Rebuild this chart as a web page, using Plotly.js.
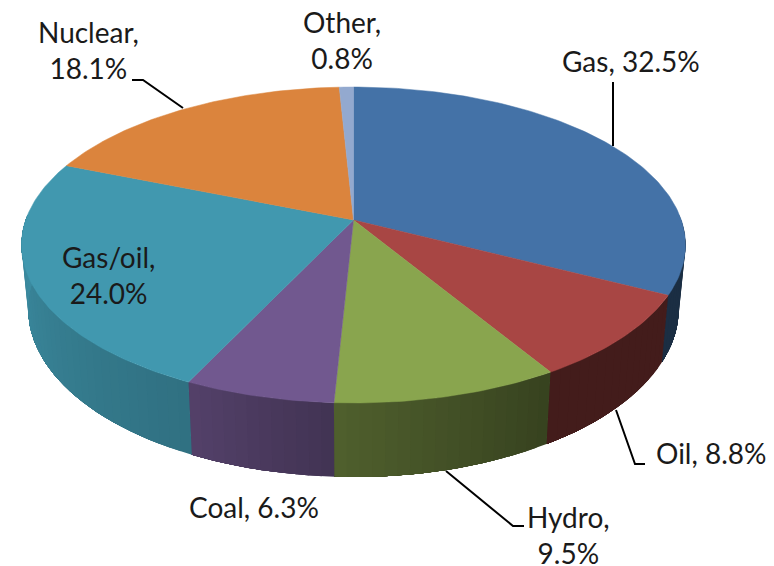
<!DOCTYPE html>
<html>
<head>
<meta charset="utf-8">
<script src="https://cdn.plot.ly/plotly-3.0.1.min.js"></script>
<style>html,body{margin:0;padding:0;background:#fff}#chart{width:774px;height:566px}</style>
</head>
<body>
<div id="chart"></div>
<script>
// Data, clockwise from the top of the pie
const categories = ["Gas", "Oil", "Hydro", "Coal", "Gas/oil", "Nuclear", "Other"];
const shares = [32.5, 8.8, 9.5, 6.3, 24.0, 18.1, 0.8];
const topColors = ["#4472A7", "#A84644", "#89A54E", "#71588F", "#4198AF", "#DB843D", "#93A9CF"];

// Label text and placement
const labelText = ["Gas, 32.5%", "Oil, 8.8%", "Hydro,<br>9.5%", "Coal, 6.3%", "Gas/oil,<br>24.0%", "Nuclear,<br>18.1%", "Other,<br>0.8%"];
const labelX = [631, 711, 568, 254, 108, 88, 342];
const labelY = [61, 453, 535, 507, 275, 50, 40];

// Leader lines
const leaderX = [[613, 613], [616, 635, 645], [446, 513, 524], [183, 143, 132]];
const leaderY = [[146, 82], [410, 464, 464], [471, 526, 526], [108, 80, 80]];

// Perspective disc geometry
const cx = 353.5, cy = 220, A = 327.8, a = -119.2, k = 0.1582;
const wallScale = 0.98, wallQ = 1.065, wallP = 47.8;
// Wall shading by clockwise angle
const shadeAngle = [0, 117, 149, 183, 206, 270, 360];
const shadeValue = [0.40, 0.40, 0.40, 0.58, 0.74, 0.92, 0.92];

function project(deg) {
  const t = deg * Math.PI / 180, X = Math.sin(t), Y = Math.cos(t), d = 1 + k * Y;
  return [cx + A * X / d, (a * Y + cy) / d];
}
function lower(p) { return [cx + wallScale * (p[0] - cx), wallQ * p[1] + wallP]; }
function shade(deg) {
  for (let i = 1; i < shadeAngle.length; i++) {
    if (deg <= shadeAngle[i]) {
      const f = (deg - shadeAngle[i - 1]) / (shadeAngle[i] - shadeAngle[i - 1]);
      return shadeValue[i - 1] + f * (shadeValue[i] - shadeValue[i - 1]);
    }
  }
  return shadeValue[shadeValue.length - 1];
}
function tint(hex, s) {
  const n = parseInt(hex.slice(1), 16);
  return `rgb(${Math.round((n >> 16) * s)},${Math.round(((n >> 8) & 255) * s)},${Math.round((n & 255) * s)})`;
}

const traces = [];
const total = shares.reduce((p, q) => p + q, 0);
let start = 0;
const spans = shares.map(v => { const s = [start, start + v / total * 360]; start = s[1]; return s; });

// Side walls, as shaded strips; each strip reaches to the slice end and the next paints over it,
// so no seams show between neighbours
spans.forEach((sp, i) => {
  const from = Math.max(sp[0], 88), to = Math.min(sp[1], 272);
  if (to <= from) return;
  const n = Math.max(1, Math.ceil((to - from) / 2));
  for (let j = 0; j < n; j++) {
    const d0 = from + (to - from) * j / n;
    const edge = [], m = n - j;
    for (let q = 0; q <= m; q++) edge.push(project(d0 + (to - d0) * q / m));
    const low = edge.map(lower).reverse();
    const poly = edge.concat(low);
    poly.push(edge[0]);
    const col = tint(topColors[i], shade(d0 + (to - from) / n / 2));
    traces.push({
      type: "scatter", mode: "lines", fill: "toself", fillcolor: col,
      x: poly.map(p => p[0]), y: poly.map(p => p[1]),
      line: { width: 0 }, hoverinfo: "skip", showlegend: false
    });
  }
});

// Top face slices
spans.forEach((sp, i) => {
  const xs = [cx], ys = [cy];
  const n = Math.max(2, Math.ceil(sp[1] - sp[0]));
  for (let j = 0; j <= n; j++) {
    const p = project(sp[0] + (sp[1] - sp[0]) * j / n);
    xs.push(p[0]); ys.push(p[1]);
  }
  xs.push(cx); ys.push(cy);
  traces.push({
    type: "scatter", mode: "lines", fill: "toself", fillcolor: topColors[i], name: categories[i],
    x: xs, y: ys, line: { color: topColors[i], width: 0.5 }, showlegend: false, hoverinfo: "name"
  });
});

// Leader lines
leaderX.forEach((lx, i) => traces.push({
  type: "scatter", mode: "lines", x: lx, y: leaderY[i],
  line: { color: "#000", width: 2 }, hoverinfo: "skip", showlegend: false
}));

const annotations = labelText.map((t, i) => ({
  x: labelX[i], y: labelY[i], xref: "x", yref: "y", text: t, showarrow: false,
  xanchor: "center", yanchor: "middle", align: "center",
  font: { family: "Lato, sans-serif", size: 28, color: "#1a1a1a" }
}));

Plotly.newPlot("chart", traces, {
  width: 774, height: 566, margin: { l: 0, r: 0, t: 0, b: 0 },
  paper_bgcolor: "#fff", plot_bgcolor: "#fff", showlegend: false,
  xaxis: { range: [0, 774], visible: false, fixedrange: true },
  yaxis: { range: [566, 0], visible: false, fixedrange: true },
  annotations
}, { displayModeBar: false, staticPlot: true });
</script>
</body>
</html>
